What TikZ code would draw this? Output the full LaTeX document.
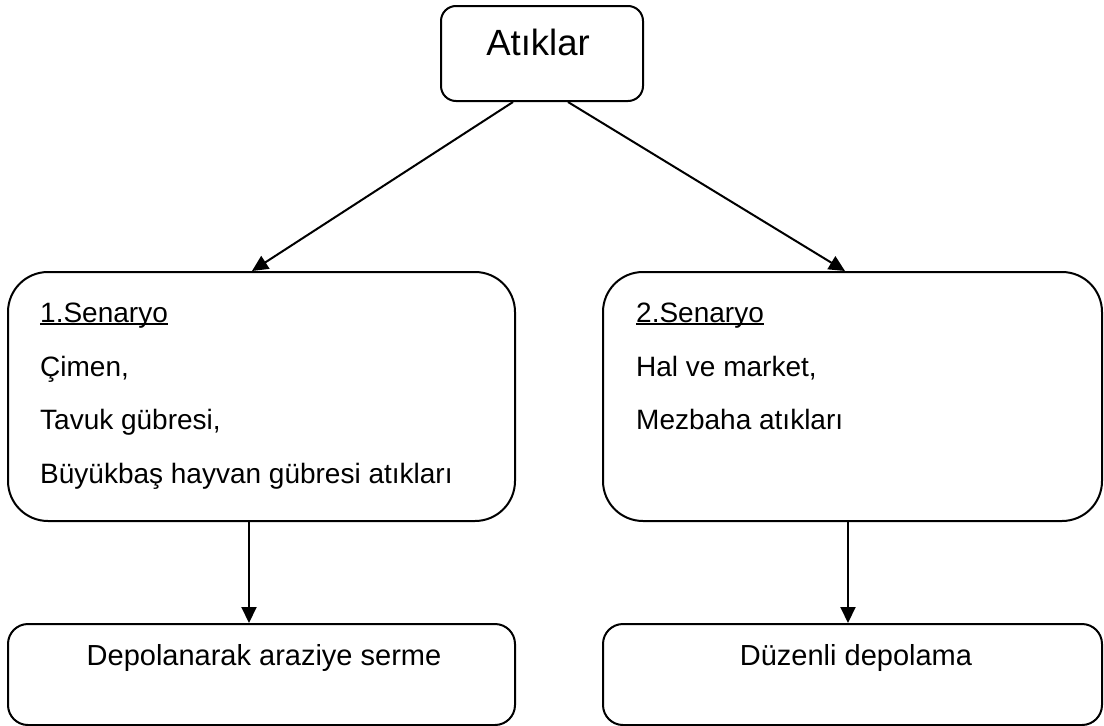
\documentclass[tikz,border=0pt]{standalone}
\usepackage{fontspec}
\setmainfont{Liberation Sans}
\usetikzlibrary{arrows.meta,calc}

% underline that sits just below the baseline, crossing descenders
\newcommand\lowline[1]{\setbox0\hbox{#1}\rlap{\rule[-3.2pt]{\wd0}{1.8pt}}\box0}

\tikzset{
  box/.style={draw, line width=2pt, rounded corners=#1, inner sep=0pt},
  body/.style={font=\fontsize{28}{28}\selectfont, anchor=base west, inner sep=0pt},
  result/.style={font=\fontsize{29}{29}\selectfont, anchor=base, inner sep=0pt},
  link/.style={line width=2pt, -{Triangle[length=16pt,width=15pt]}},
}

\begin{document}
\begin{tikzpicture}[x=1pt,y=-1pt]
  \useasboundingbox (0,0) rectangle (1104,726);

  % boxes
  \node[box=15pt, minimum width=202pt, minimum height=95pt] (atik) at (542,53.5) {};
  \node[box=40pt, minimum width=507pt, minimum height=249pt] (sen1) at (261.5,396.5) {};
  \node[box=40pt, minimum width=499pt, minimum height=249pt] (sen2) at (852.5,396.5) {};
  \node[box=20pt, minimum width=507pt, minimum height=101pt] (dep1) at (261.5,674.5) {};
  \node[box=20pt, minimum width=499pt, minimum height=101pt] (dep2) at (852.5,674.5) {};

  % title
  \node[font=\fontsize{36.5}{36.5}\selectfont, anchor=base, inner sep=0pt] (title) at (538,55) {Atıklar};

  % scenario 1
  \node[body] (s1a) at (40,322) {\lowline{1.Senaryo}};
  \node[body] (s1b) at (40,376) {Çimen,};
  \node[body] (s1c) at (40,429) {Tavuk gübresi,};
  \node[body] (s1d) at (40,483) {Büyükbaş hayvan gübresi atıkları};

  % scenario 2
  \node[body] (s2a) at (636,322) {\lowline{2.Senaryo}};
  \node[body] (s2b) at (636,376) {Hal ve market,};
  \node[body] (s2c) at (636,429) {Mezbaha atıkları};

  % outcomes
  \node[result] (d1) at (264,665) {Depolanarak araziye serme};
  \node[result] (d2) at (856,665) {Düzenli depolama};

  % connectors
  \draw[link] ([xshift=-29pt]atik.south) -- ([xshift=-9.5pt]sen1.north);
  \draw[link] ([xshift=26pt]atik.south) -- ([xshift=-7.5pt]sen2.north);
  \draw[link] ([xshift=-12.5pt]sen1.south) -- ([xshift=-12.5pt]dep1.north);
  \draw[link] ([xshift=-4.5pt]sen2.south) -- ([xshift=-4.5pt]dep2.north);
\end{tikzpicture}
\end{document}
